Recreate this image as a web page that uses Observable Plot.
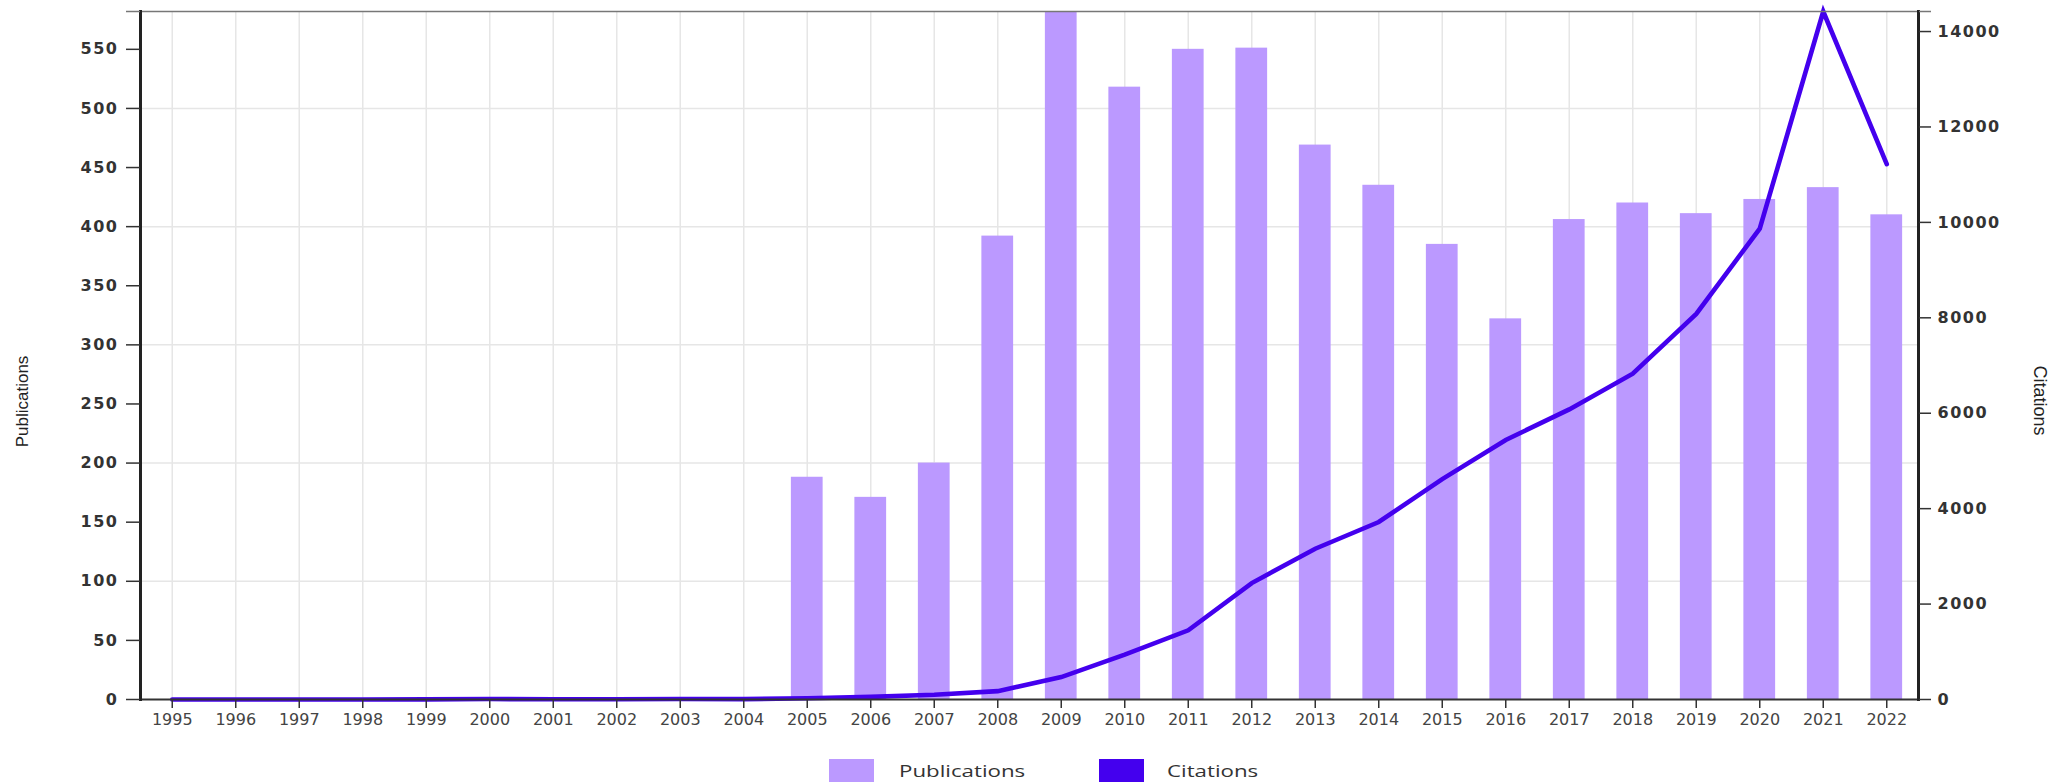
<!DOCTYPE html>
<html>
<head>
<meta charset="utf-8">
<script src="https://cdn.jsdelivr.net/npm/d3@7"></script>
<script src="https://cdn.jsdelivr.net/npm/@observablehq/plot@0.6"></script>
<style>
  html, body { margin: 0; padding: 0; background: #fff; }
  #chart svg { display: block; overflow: visible; }
  #chart g[aria-label="y-axis tick label"] text { letter-spacing: 1.5px; }
  #legend { position: relative; width: 2059px; height: 30px; overflow: hidden;
            font-family: "Open Sans", sans-serif; font-size: 17px; color: #333; }
  #legend .sw { position: absolute; top: 7px; width: 45px; height: 34px; }
  #legend .lt { position: absolute; top: 7px; line-height: 23px; white-space: nowrap;
                transform: scaleX(1.31); transform-origin: left center; }
</style>
</head>
<body>
<div id="chart"></div>
<div id="legend">
  <span class="sw" style="left:829px;background:#bb99ff"></span>
  <span class="lt" style="left:899px">Publications</span>
  <span class="sw" style="left:1099px;background:#4400ee"></span>
  <span class="lt" style="left:1167px">Citations</span>
</div>
<script>
const years = [1995,1996,1997,1998,1999,2000,2001,2002,2003,2004,2005,2006,2007,2008,2009,2010,2011,2012,2013,2014,2015,2016,2017,2018,2019,2020,2021,2022];
const publications = [0,0,0,0,0,0,0,0,0,0,188,171,200,392,582,518,550,551,469,435,385,322,406,420,411,423,433,410];
const citations = [0,0,0,0,2,10,5,5,10,8,25,55,100,175,470,940,1450,2440,3160,3720,4620,5440,6080,6830,8080,9870,14420,11220];
const pubTicks = [0,50,100,150,200,250,300,350,400,450,500,550];
const citTicks = [0,2000,4000,6000,8000,10000,12000,14000];
const gridValues = [100,200,300,400,500];
const pubMax = 582;
const citMax = 14420;
const k = pubMax / citMax;

const rows = years.map((year, i) => ({year, pub: publications[i], cit: citations[i]}));

const chart = Plot.plot({
  width: 2059,
  height: 752,
  marginLeft: 140,
  marginRight: 141,
  marginTop: 11,
  marginBottom: 53,
  style: {fontFamily: "DejaVu Sans", background: "#fff", overflow: "visible"},
  x: {type: "band", domain: years, paddingInner: 0.5, paddingOuter: 0.25, align: 0.5, round: false},
  y: {domain: [0, pubMax]},
  marks: [
    Plot.ruleX(years, {x: d => d, stroke: "#e6e6e6", strokeWidth: 1.5}),
    Plot.ruleY(gridValues, {stroke: "#e6e6e6", strokeWidth: 1.5}),
    Plot.barY(rows, {x: "year", y: "pub", fill: "#bb99ff"}),
    Plot.lineY(rows, {x: "year", y: d => d.cit * k, stroke: "#4400ee", strokeWidth: 4.6, strokeLinejoin: "miter", strokeMiterlimit: 10}),
    Plot.frame({anchor: "top", stroke: "#777", strokeWidth: 1.5}),
    Plot.frame({anchor: "bottom", stroke: "#333", strokeWidth: 2}),
    Plot.frame({anchor: "left", stroke: "#222", strokeWidth: 3}),
    Plot.frame({anchor: "right", stroke: "#222", strokeWidth: 3}),
    Plot.axisY({anchor: "left", ticks: pubTicks, tickSize: 14, tickPadding: 8, fontSize: 16, fontWeight: "bold", fill: "#333", stroke: "#333", strokeWidth: 1.5, tickFormat: d => String(d), label: null}),
    Plot.axisY({anchor: "left", ticks: [pubMax], tickSize: 14, tickFormat: () => "", stroke: "#777", strokeWidth: 1.5, label: null}),
    Plot.axisY({anchor: "right", ticks: citTicks.map(v => v * k), tickSize: 12, tickPadding: 7, fontSize: 16, fontWeight: "bold", fill: "#333", stroke: "#333", strokeWidth: 1.5, tickFormat: d => String(Math.round(d / k)), label: null}),
    Plot.axisY({anchor: "right", ticks: [pubMax], tickSize: 12, tickFormat: () => "", stroke: "#777", strokeWidth: 1.5, label: null}),
    Plot.axisX({ticks: years, tickSize: 9, tickPadding: 5, fontSize: 16, fill: "#444", stroke: "#333", strokeWidth: 1.5, tickFormat: d => String(d), label: null}),
    Plot.text(["Publications"], {frameAnchor: "left", textAnchor: "middle", dx: -118, dy: 46, rotate: -90, fontSize: 17, fontFamily: "Liberation Sans", fill: "#222"}),
    Plot.text(["Citations"], {frameAnchor: "right", textAnchor: "middle", dx: 121, dy: 45, rotate: 90, fontSize: 18, fontFamily: "Liberation Sans", fill: "#222", style: "letter-spacing:1.2px"})
  ]
});

document.getElementById("chart").appendChild(chart);
</script>
</body>
</html>
